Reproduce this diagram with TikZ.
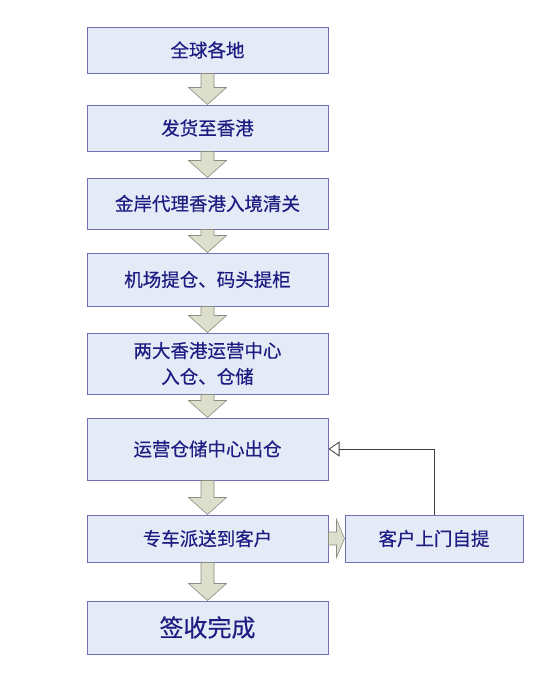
\documentclass[tikz,border=0pt]{standalone}
\usepackage{fontspec}
\setmainfont{Noto Sans CJK SC}[FakeBold=0.4]
\usetikzlibrary{calc,arrows.meta}
\definecolor{boxfill}{HTML}{E4EAF6}
\definecolor{boxline}{HTML}{7070B8}
\definecolor{txt}{HTML}{1C1C82}
\definecolor{arrfill}{HTML}{DCDFCB}
\definecolor{arrline}{HTML}{8C8C80}
\tikzset{
  stepbox/.style={draw=boxline, line width=1pt, fill=boxfill, text=txt,
    minimum width=241pt, minimum height=#1, inner sep=0pt, align=center,
    font=\fontsize{18.5pt}{26pt}\selectfont},
  stepbox/.default=47pt,
  blockarrow/.style={draw=arrline, line width=0.6pt, fill=arrfill},
  feedback/.style={draw=black!75, line width=0.8pt,
    -{Triangle[open,length=11pt,width=15pt]}}
}
\newcommand{\blockdown}[2]{%
  \path[blockarrow] let \p1=(#1.south), \p2=(#2.north) in
    (\x1-6.5pt,\y1) -- (\x1+6.5pt,\y1) -- (\x1+6.5pt,\y2+17pt) --
    (\x1+19pt,\y2+17pt) -- (\x1,\y2) -- (\x1-19pt,\y2+17pt) --
    (\x1-6.5pt,\y2+17pt) -- cycle;}
\newcommand{\blockright}[2]{%
  \path[blockarrow] let \p1=(#1.east), \p2=(#2.west) in
    (\x1,\y1+6.5pt) -- (\x2-8pt,\y1+6.5pt) -- (\x2-8pt,\y1+19pt) --
    (\x2,\y1) -- (\x2-8pt,\y1-19pt) -- (\x2-8pt,\y1-6.5pt) --
    (\x1,\y1-6.5pt) -- cycle;}
\begin{document}
\begin{tikzpicture}[x=1pt,y=-1pt]
\useasboundingbox (0,0) rectangle (554,681);
\node[stepbox=46pt] (b1) at (207.5,50) {全球各地};
\node[stepbox=46pt] (b2) at (207.5,128) {发货至香港};
\node[stepbox=51pt] (b3) at (207.5,203.5) {金岸代理香港入境清关};
\node[stepbox=53pt] (b4) at (207.5,279.5) {机场提仓、码头提柜};
\node[stepbox=61pt] (b5) at (207.5,363.5) {两大香港运营中心\\入仓、仓储};
\node[stepbox=62pt] (b6) at (207.5,449) {运营仓储中心出仓};
\node[stepbox=47pt] (b7) at (207.5,538.5) {专车派送到客户};
\node[stepbox=53pt, font=\fontsize{24pt}{28pt}\selectfont] (b8) at (207.5,627.5) {签收完成};
\node[stepbox=47pt, minimum width=178pt] (rb) at (434,538.5) {客户上门自提};
\blockdown{b1}{b2}
\blockdown{b2}{b3}
\blockdown{b3}{b4}
\blockdown{b4}{b5}
\blockdown{b5}{b6}
\blockdown{b6}{b7}
\blockdown{b7}{b8}
\blockright{b7}{rb}
\draw[feedback] (rb.north) -- (rb.north |- b6.east) -- (b6.east);
\end{tikzpicture}
\end{document}
